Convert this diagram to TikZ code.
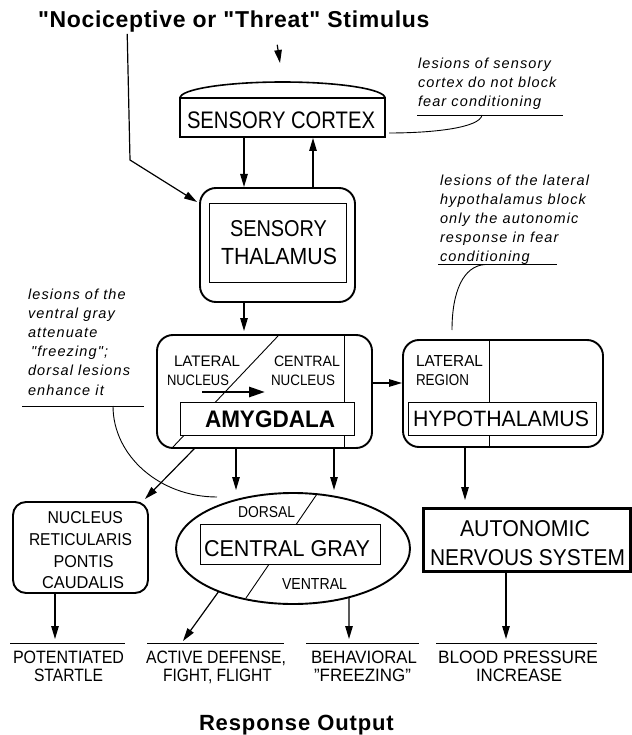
\documentclass[tikz,border=0pt]{standalone}
\usepackage{fontspec}
\setmainfont{Liberation Sans}
\newfontfamily\titlefont[LetterSpace=3]{Liberation Sans}
\newfontfamily\respfont[LetterSpace=4]{Liberation Sans}
\newfontfamily\notefont[LetterSpace=7.7]{Liberation Sans}
\usepackage{graphicx}
\usetikzlibrary{arrows.meta,calc,shapes.geometric}
\newcommand\fitlabel[3]{\resizebox{#1pt}{#2pt}{#3}}
\begin{document}
\begin{tikzpicture}[x=1pt,y=-1pt,
  every node/.style={inner sep=0pt, outer sep=0pt},
  lab/.style={anchor=base west},
  note/.style={anchor=base west, font=\notefont\itshape\fontsize{14.5}{19}\selectfont},
  rbox/.style={draw, line width=1.9pt, rounded corners=16pt},
  ibox/.style={draw, line width=0.9pt, fill=white},
  arr/.style={line width=1.2pt, -{Triangle[length=13pt,width=7.5pt]}},
  fine/.style={line width=0.9pt},
]
\fill[white] (0,0) rectangle (631,735);
\useasboundingbox (0,0) rectangle (631,735);

% title
\node[lab, font=\titlefont\bfseries\fontsize{23}{27}\selectfont] (stim) at (38,28) {"Nociceptive or "Threat" Stimulus};

% sensory cortex
\node[draw, line width=1.8pt, minimum width=205pt, minimum height=39pt] (cortex) at (282.5,117.5) {};
\draw[line width=1.6pt] (cortex.north west) .. controls +(0,-8.8) and +(-56.6,0) .. ($(cortex.north)+(0,-16)$)
   .. controls +(56.6,0) and +(0,-8.8) .. (cortex.north east);
\node[lab] (ctxt) at (187,128.3) {\fitlabel{188}{16.7}{SENSORY CORTEX}};

% sensory thalamus
\node[rbox, minimum width=155pt, minimum height=114pt] (thal) at (277.5,245) {};
\node[ibox, minimum width=137pt, minimum height=79pt] (thalin) at (277.5,242.5) {};
\node[lab] (th1) at (230,236.5) {\fitlabel{97}{16}{SENSORY}};
\node[lab] (th2) at (221,264.5) {\fitlabel{116}{16.3}{THALAMUS}};

% amygdala
\node[rbox, minimum width=215pt, minimum height=113pt] (amyg) at (264.5,391.5) {};
\draw[fine] (278,336) -- (173,447);
\draw[fine] (344,336) -- (344,447);
\node[ibox, minimum width=174pt, minimum height=33pt] (amygin) at (267,418.5) {};
\node[lab] (amtxt) at (205,427) {\fitlabel{130}{16.7}{\bfseries AMYGDALA}};
\node[lab] (ln1) at (174,366) {\fitlabel{66}{10.5}{LATERAL}};
\node[lab] (ln2) at (167,385) {\fitlabel{62}{10.5}{NUCLEUS}};
\node[lab] (cn1) at (274,366) {\fitlabel{66}{10.5}{CENTRAL}};
\node[lab] (cn2) at (271,385) {\fitlabel{64}{10.5}{NUCLEUS}};
\draw[line width=2.8pt, -{Triangle[length=16pt,width=10pt]}]
  ([xshift=35pt,yshift=-7pt]ln2.base west) -- ([xshift=-6pt,yshift=-7pt]cn2.base west);

% hypothalamus
\node[rbox, minimum width=200pt, minimum height=107pt] (hypo) at (503,393.5) {};
\draw[fine] (489,341) -- (489,446);
\node[ibox, minimum width=188pt, minimum height=33pt] (hypoin) at (502,418.5) {};
\node[lab] (hy1) at (413,426.5) {\fitlabel{176}{15.5}{HYPOTHALAMUS}};
\node[lab] (lr1) at (416,366.5) {\fitlabel{67}{11}{LATERAL}};
\node[lab] (lr2) at (416,385.5) {\fitlabel{53}{11}{REGION}};

% central gray
\node[draw, ellipse, line width=1.9pt, minimum width=234pt, minimum height=111pt] (cg) at (293,548.5) {};
\draw[fine] (317,494) -- (246,598);
\node[ibox, minimum width=180pt, minimum height=40pt] (cgin) at (290,544) {};
\node[lab] (cgt) at (204,556) {\fitlabel{166}{16}{CENTRAL GRAY}};
\node[lab] (dors) at (238,517) {\fitlabel{57}{11}{DORSAL}};
\node[lab] (vent) at (282,589) {\fitlabel{65}{11}{VENTRAL}};

% nucleus reticularis pontis caudalis
\node[rbox, rounded corners=13pt, minimum width=135pt, minimum height=91pt] (nrpc) at (80.5,547.5) {};
\node[lab] (nr1) at (47.5,523) {\fitlabel{75.5}{12}{NUCLEUS}};
\node[lab] (nr2) at (29,545) {\fitlabel{103}{12}{RETICULARIS}};
\node[lab] (nr3) at (53.5,567) {\fitlabel{60}{12}{PONTIS}};
\node[lab] (nr4) at (42,588) {\fitlabel{82}{12}{CAUDALIS}};

% autonomic nervous system
\node[draw, line width=3pt, minimum width=207pt, minimum height=63pt] (ans) at (526.5,539.5) {};
\node[lab] (an1) at (460,536) {\fitlabel{130}{16}{AUTONOMIC}};
\node[lab] (an2) at (430,565) {\fitlabel{195}{16}{NERVOUS SYSTEM}};

% outputs
\node[lab] (o1a) at (13,663) {\fitlabel{111}{12.5}{POTENTIATED}};
\node[lab] (o1b) at (34,681) {\fitlabel{69}{12.5}{STARTLE}};
\node[lab] (o2a) at (146,663) {\fitlabel{140}{12.5}{ACTIVE DEFENSE,}};
\node[lab] (o2b) at (163,681) {\fitlabel{109}{12.5}{FIGHT, FLIGHT}};
\node[lab] (o3a) at (311,663) {\fitlabel{106}{12.5}{BEHAVIORAL}};
\node[lab] (o3b) at (314,681) {\fitlabel{97}{12.5}{"FREEZING"}};
\node[lab] (o4a) at (438,663) {\fitlabel{160}{12.5}{BLOOD PRESSURE}};
\node[lab] (o4b) at (476,681) {\fitlabel{86}{12.5}{INCREASE}};
\draw[line width=1.1pt] (10,643.5) -- (125,643.5);
\draw[line width=1.1pt] (147,643.5) -- (284,643.5);
\draw[line width=1.1pt] (306,643.5) -- (419,643.5);
\draw[line width=1.1pt] (436,643.5) -- (597,643.5);
\coordinate (t1) at (55,639);
\coordinate (t2) at (183,641);
\coordinate (t3) at (349,639);
\coordinate (t4) at (506,639);

\node[lab, font=\respfont\bfseries\fontsize{22}{26}\selectfont] (resp) at (199,730) {Response Output};

% annotations
\node[note] (a11) at (418,68.5) {lesions of sensory};
\node[note] (a12) at (418,87.5) {cortex do not block};
\node[note] (a13) at (418,106.5) {fear conditioning};
\draw[fine] (417,115) -- (563,115);
\draw[fine] (482,115) .. controls (480,128) and (432,133) .. (389,133);

\node[note] (a21) at (440,185.5) {lesions of the lateral};
\node[note] (a22) at (440,204.5) {hypothalamus block};
\node[note] (a23) at (440,223.5) {only the autonomic};
\node[note] (a24) at (440,242.5) {response in fear};
\node[note] (a25) at (440,261.5) {conditioning};
\draw[fine] (438,264.5) -- (557,264.5);
\draw[fine] (485,264.5) .. controls (463,266) and (452,292) .. (452,330);

\node[note] (a31) at (28,299) {lesions of the};
\node[note] (a32) at (28,318.2) {ventral gray};
\node[note] (a33) at (28,337.4) {attenuate};
\node[note] (a34) at (31,356.6) {"freezing";};
\node[note] (a35) at (28,375.8) {dorsal lesions};
\node[note] (a36) at (28,395) {enhance it};
\draw[fine] (22,406) -- (144,406);
\draw[fine] (113,406) .. controls (113,456) and (160,497) .. (217,497);

% connectors
\coordinate (bend) at (130,160);
\draw[arr] ([xshift=43.5pt,yshift=-12pt]stim.south) -- ([xshift=-2.5pt,yshift=35pt]cortex.north);
\draw[arr] ([xshift=-106.5pt,yshift=-1pt]stim.south) -- (bend) -- ([xshift=-3pt,yshift=-14pt]thal.north west);
\draw[arr] ([xshift=-38.5pt]cortex.south) -- ([xshift=-33.5pt,yshift=1pt]thal.north);
\draw[arr] ([xshift=35.5pt]thal.north) -- ([xshift=30.5pt,yshift=-1pt]cortex.south);
\draw[arr] ([xshift=-33.5pt]thal.south) -- ([xshift=-20.5pt,yshift=4pt]amyg.north);
\draw[arr] ([yshift=8.5pt]amyg.east) -- ([yshift=10.5pt,xshift=-1pt]hypo.west);
\draw[arr] ([xshift=-28.5pt]amyg.south) -- ([xshift=-57pt,yshift=3pt]cg.north);
\draw[arr] ([xshift=69.5pt]amyg.south) -- ([xshift=41pt,yshift=3pt]cg.north);
\draw[arr] ([xshift=-69.5pt]amyg.south) -- ([xshift=-3pt,yshift=3pt]nrpc.north east);
\draw[arr] (cg.210) -- (t2);
\draw[arr] (cg.319) -- (t3);
\draw[arr] ([xshift=-25.5pt]nrpc.south) -- (t1);
\draw[arr] ([xshift=-38pt]hypo.south) -- ([xshift=-61.5pt,yshift=8pt]ans.north);
\draw[arr] ([xshift=-20.5pt]ans.south) -- (t4);
\end{tikzpicture}
\end{document}
